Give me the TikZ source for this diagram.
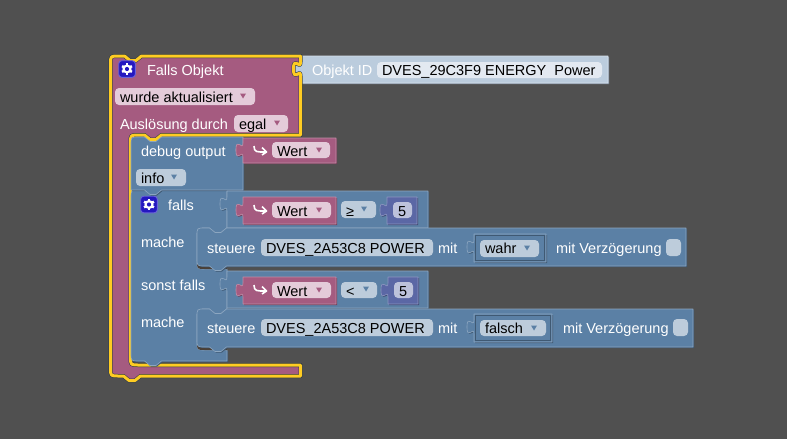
\documentclass[tikz,border=0pt]{standalone}
\usepackage{fontspec}
\setmainfont{Liberation Sans}
\definecolor{bgc}{HTML}{505050}
\definecolor{pinkb}{HTML}{A55B80}
\definecolor{pinkd}{HTML}{733F59}
\definecolor{pinkl}{HTML}{C08CA6}
\definecolor{pinkf}{HTML}{E4CBD9}
\definecolor{blueb}{HTML}{5B80A5}
\definecolor{blued}{HTML}{3F5973}
\definecolor{bluel}{HTML}{8CA6C0}
\definecolor{bluef}{HTML}{BDCCDB}
\definecolor{numb}{HTML}{5B67A5}
\definecolor{numd}{HTML}{3F4873}
\definecolor{numl}{HTML}{8C95C0}
\definecolor{numf}{HTML}{BDC2DB}
\definecolor{objb}{HTML}{BBCCDD}
\definecolor{objd}{HTML}{8290A0}
\definecolor{objl}{HTML}{D6E0EB}
\definecolor{objf}{HTML}{E3E9F1}
\definecolor{selc}{HTML}{FFCC22}
\definecolor{gapc}{HTML}{4A4038}
\definecolor{iconc}{HTML}{2418C0}
\definecolor{iconl}{HTML}{6A62D8}
\newcommand{\ntch}[3]{-- ({#1-(#2)*8.5},#3) -- ({#1-(#2)*3},#3+4.5) -- ({#1+(#2)*3},#3+4.5) -- ({#1+(#2)*8.5},#3)}
\newcommand{\tabdn}[2]{-- (#1,#2) .. controls (#1,#2+9) and (#1-7,#2-7) .. (#1-7,#2+7) .. controls (#1-7,#2+21) and (#1,#2+5) .. (#1,#2+14)}
\newcommand{\tabup}[2]{-- (#1,#2+14) .. controls (#1,#2+5) and (#1-7,#2+21) .. (#1-7,#2+7) .. controls (#1-7,#2-7) and (#1,#2+9) .. (#1,#2)}
\newcommand{\blockp}[4]{\fill[#2,shift={(1,1)}] #4; \filldraw[fill=#1,draw=#3,line width=.6pt,line join=round] #4;}
\newcommand{\fieldr}[5]{\fill[#5,rounded corners=4pt] (#1,#2) rectangle (#3,#4);}
\newcommand{\tri}[3]{\fill[#3] (#1-3,#2-2.5) -- (#1+3,#2-2.5) -- (#1,#2+2.5) -- cycle;}
\newcommand{\gearicon}[2]{%
  \filldraw[fill=iconc,draw=iconl,line width=.9pt,rounded corners=3pt] (#1-8.3,#2-8.3) rectangle (#1+8.3,#2+8.3);
  \fill[white] (#1,#2) circle[radius=4.6];
  \foreach \a in {30,90,...,330} \draw[white,line width=2.4pt] ({#1+3.5*cos(\a)},{#2+3.5*sin(\a)}) -- ({#1+5.7*cos(\a)},{#2+5.7*sin(\a)});
  \fill[iconc] (#1,#2) circle[radius=2.1];}
\newcommand{\hookarrow}[2]{%
  \draw[white,line width=1.6pt,line join=round] (#1-6,#2-4) .. controls (#1-6,#2+2.5) and (#1-3,#2+2) .. (#1+6,#2+2);
  \draw[white,line width=1.6pt,line join=round] (#1+2,#2-2.5) -- (#1+6.5,#2+2) -- (#1+2,#2+5);}
\tikzset{
  lab/.style={anchor=base west,inner sep=0pt,outer sep=0pt,font=\fontsize{14.5}{16}\selectfont,text=white},
  fld/.style={lab,text=black},
}
\begin{document}
\begin{tikzpicture}[x=1pt,y=-1pt]
\fill[bgc] (0,0) rectangle (787,439);
\useasboundingbox (0,0) rectangle (787,439);
% Objekt ID block
\blockp{objb}{objd}{objl}{(301,56) -- (608,56) -- (608,83) -- (301,83) \tabup{301}{62} -- cycle}
\fieldr{377}{62}{602}{78}{objf}
\node[lab] (objlabel) at (312,75) {Objekt ID};
\node[fld] (objval) at (382,75) {DVES\_29C3F9 ENERGY\ \ Power};
% selected pink block
\def\pinkpath{(110.5,64) .. controls (110.5,56) .. (118.5,56) \ntch{133}{1}{56} -- (300.5,56) \tabdn{300.5}{62} -- (300.5,135) \ntch{153}{-1}{135} -- (138.5,135) .. controls (130.5,135) .. (130.5,143) -- (130.5,357) .. controls (130.5,365) .. (138.5,365) -- (300.5,365) -- (300.5,376) \ntch{132}{-1}{376} -- (118.5,376) .. controls (110.5,376) .. (110.5,368) -- cycle}
\draw[fill=pinkb,draw=blued!60!black,line width=4pt,line join=round] \pinkpath;
\draw[draw=selc,line width=3pt,line join=round] \pinkpath;
\gearicon{127}{69}
\node[lab] (fallsobj) at (147,75) {Falls Objekt};
\fieldr{115}{88}{255}{105}{pinkf}
\node[fld] (wurde) at (120,102) {wurde aktualisiert};
\tri{243}{96}{pinkb}
\node[lab] (ausl) at (120,129) {Auslösung durch};
\fieldr{234}{115}{288}{132}{pinkf}
\node[fld] (egal) at (239,129) {egal};
\tri{277}{123}{pinkb}
% falls block with its two arms
\blockp{blueb}{blued}{bluel}{(131,198) .. controls (131,190) .. (139,190) \ntch{153}{1}{190} -- (227,190) -- (227,228) \ntch{218}{-1}{228} -- (205,228) .. controls (197,228) .. (197,236) -- (197,261) .. controls (197,269) .. (205,269) -- (227,269) -- (227,309) \ntch{218}{-1}{309} -- (205,309) .. controls (197,309) .. (197,317) -- (197,342) .. controls (197,350) .. (205,350) -- (227,350) -- (227,361) \ntch{153}{-1}{361} -- (139,361) .. controls (131,361) .. (131,353) -- cycle}
% debug output block
\blockp{blueb}{blued}{bluel}{(131,145) .. controls (131,137) .. (139,137) \ntch{153}{1}{137} -- (243,137) \tabdn{243}{143} -- (243,190) \ntch{153}{-1}{190} -- (131,190) -- cycle}
\node[lab] (debug) at (141,156) {debug output};
\fieldr{136}{169}{186}{186}{bluef}
\node[fld] (info) at (141,183) {info};
\tri{174}{177}{blueb}
% Wert in debug
\blockp{pinkb}{pinkd}{pinkl}{(243,138) -- (336,138) -- (336,163) -- (243,163) \tabup{243}{143} -- cycle}
\hookarrow{260}{150}
\fieldr{272}{142}{330}{158}{pinkf}
\node[fld] (wert1) at (277,156) {Wert};
\tri{319}{150}{pinkb}
% falls label
\gearicon{149}{204.5}
\node[lab] (falls) at (168,210) {falls};
\node[lab] (mache1) at (141,247) {mache};
\node[lab] (sonst) at (141,290) {sonst falls};
\node[lab] (mache2) at (141,327) {mache};
% first compare
\blockp{blueb}{blued}{bluel}{(227,191) -- (428,191) -- (428,228) -- (227,228) \tabup{227}{197} -- cycle}
\blockp{pinkb}{pinkd}{pinkl}{(243,197) -- (336,197) -- (336,224) -- (243,224) \tabup{243}{203} -- cycle}
\hookarrow{260}{209}
\fieldr{272}{202}{331}{218}{pinkf}
\node[fld] (wert2) at (277,216) {Wert};
\tri{319}{210}{pinkb}
\fieldr{341}{201}{376}{218}{bluef}
\node[fld] (ge) at (346,216) {≥};
\tri{364}{209}{blueb}
\blockp{numb}{numd}{numl}{(387,197) -- (417,197) -- (417,224) -- (387,224) \tabup{387}{203} -- cycle}
\fieldr{393}{202}{412}{218}{numf}
\node[fld] (five1) at (398,216) {5};
% first steuere
\fill[gapc] (197,250) -- (197,261) .. controls (197,269) .. (205,269) -- (227,269) -- (227,250) -- cycle;
\blockp{blueb}{blued}{bluel}{(205,228) \ntch{218}{1}{228} -- (686,228) -- (686,266) \ntch{218}{-1}{266} -- (205,266) .. controls (197,266) .. (197,258) -- (197,236) .. controls (197,228) .. (205,228) -- cycle}
\node[lab] (st1) at (207,253) {steuere};
\fieldr{261}{239}{433}{256}{bluef}
\node[fld] (dev1) at (266,253) {DVES\_2A53C8 POWER};
\node[lab] (mit1) at (438,253) {mit};
\blockp{blueb}{blued}{bluel}{(474,234) -- (546,234) -- (546,262) -- (474,262) \tabup{474}{240} -- cycle}
\draw[blued,line width=.7pt] (475.2,235.2) rectangle (544.8,260.8);
\fieldr{480}{240}{539}{257}{bluef}
\node[fld] (wahr) at (485,253) {wahr};
\tri{527}{248}{blueb}
\node[lab] (verz1) at (556,253) {mit Verzögerung};
\fieldr{666}{239}{681}{256}{bluef}
% second compare
\blockp{blueb}{blued}{bluel}{(227,271) -- (428,271) -- (428,308) -- (227,308) \tabup{227}{277} -- cycle}
\blockp{pinkb}{pinkd}{pinkl}{(243,277) -- (336,277) -- (336,304) -- (243,304) \tabup{243}{283} -- cycle}
\hookarrow{260}{289}
\fieldr{272}{282}{331}{298}{pinkf}
\node[fld] (wert3) at (277,296) {Wert};
\tri{319}{290}{pinkb}
\fieldr{341}{282}{377}{298}{bluef}
\node[fld] (lt) at (346,296) {<};
\tri{366}{289}{blueb}
\blockp{numb}{numd}{numl}{(388,277) -- (418,277) -- (418,304) -- (388,304) \tabup{388}{283} -- cycle}
\fieldr{394}{282}{413}{298}{numf}
\node[fld] (five2) at (399,296) {5};
% second steuere
\fill[gapc] (197,331) -- (197,342) .. controls (197,350) .. (205,350) -- (227,350) -- (227,331) -- cycle;
\blockp{blueb}{blued}{bluel}{(205,309) \ntch{218}{1}{309} -- (693,309) -- (693,347) \ntch{218}{-1}{347} -- (205,347) .. controls (197,347) .. (197,339) -- (197,317) .. controls (197,309) .. (205,309) -- cycle}
\node[lab] (st2) at (207,333) {steuere};
\fieldr{261}{319}{433}{336}{bluef}
\node[fld] (dev2) at (266,333) {DVES\_2A53C8 POWER};
\node[lab] (mit2) at (438,333) {mit};
\blockp{blueb}{blued}{bluel}{(474,314) -- (552,314) -- (552,342) -- (474,342) \tabup{474}{320} -- cycle}
\draw[blued,line width=.7pt] (475.2,315.2) rectangle (550.8,340.8);
\fieldr{480}{320}{546}{336}{bluef}
\node[fld] (falsch) at (485,333) {falsch};
\tri{534}{328}{blueb}
\node[lab] (verz2) at (563,333) {mit Verzögerung};
\fieldr{673}{319}{688}{336}{bluef}
\end{tikzpicture}
\end{document}
